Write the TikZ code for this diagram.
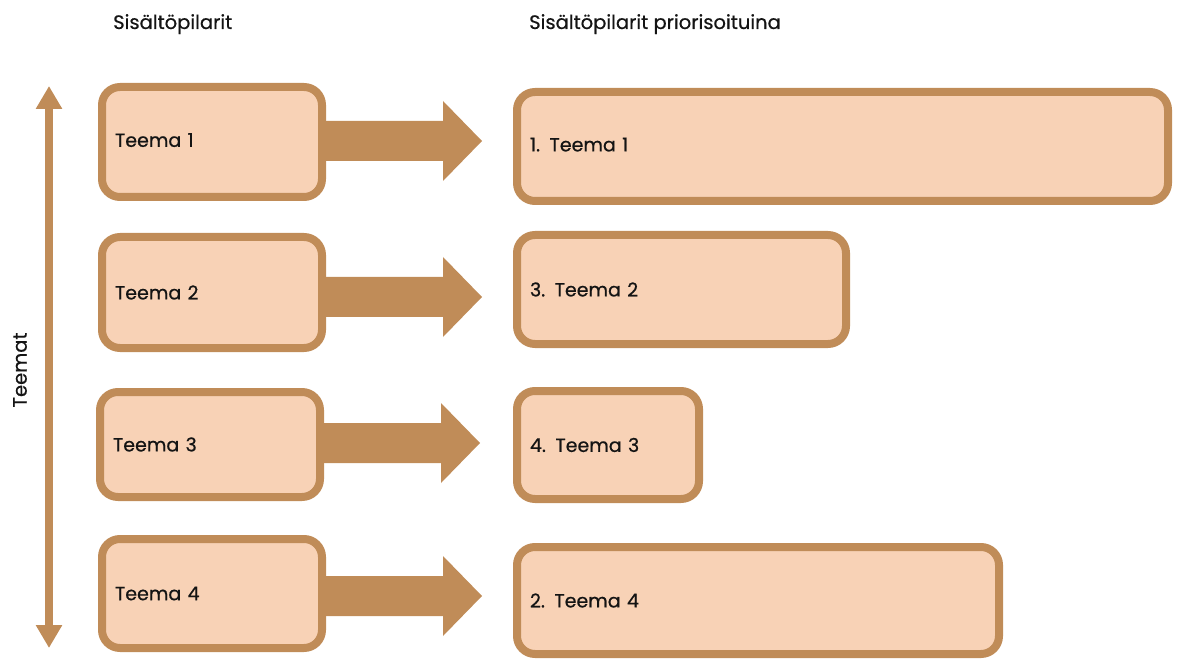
\documentclass[tikz,border=0pt]{standalone}
\usepackage{fontspec}
\setmainfont{Poppins}[FakeBold=0.6]
\usetikzlibrary{arrows.meta,calc}
\definecolor{boxfill}{RGB}{248,210,182}
\definecolor{boxline}{RGB}{192,140,88}
\definecolor{txt}{RGB}{20,20,20}
\tikzset{
  pillar/.style={draw=boxline, fill=boxfill, line width=8pt, rounded corners=18pt,
    minimum width=220pt, inner xsep=13pt, text width=#1, align=left,
    font=\fontsize{19}{22}\selectfont, text=txt},
  pillar/.default=194pt,
  bigarrow/.style={fill=boxline},
  heading/.style={font=\fontsize{19.5}{22}\selectfont, text=txt, inner sep=0pt},
}
\begin{document}
\begin{tikzpicture}[x=1pt,y=-1pt]
\useasboundingbox (0,0) rectangle (1178,660);
% headings
\node[heading, anchor=base west] (h1) at (113,29) {Sisältöpilarit};
\node[heading, anchor=base west] (h2) at (529,29) {Sisältöpilarit priorisoituina};
\node[heading, rotate=90] (hv) at (20,370) {Teemat};
% vertical double arrow
\coordinate (vtop) at (49,86);
\coordinate (vbot) at (49,648);
\draw[boxline, line width=8pt, {Triangle[width=25pt,length=23pt]}-{Triangle[width=25pt,length=23pt]}] (vtop) -- (vbot);
% left boxes
\node[pillar, minimum height=110pt] (l1) at (212,142) {\raisebox{4pt}{Teema 1}};
\node[pillar, minimum height=111pt] (l2) at (212,292.5) {Teema 2};
\node[pillar, minimum height=105pt] (l3) at (210,444.5) {Teema 3};
\node[pillar, minimum height=109pt] (l4) at (212,593.5) {Teema 4};
% right boxes
\node[pillar=625pt, minimum width=651pt, minimum height=109pt] (r1) at (842.5,146.5) {\raisebox{4pt}{1. Teema 1}};
\node[pillar=303pt, minimum width=329pt, minimum height=109pt] (r2) at (681.5,289.5) {3. Teema 2};
\node[pillar=156pt, minimum width=182pt, minimum height=108pt] (r3) at (608,445) {4. Teema 3};
\node[pillar=456pt, minimum width=482pt, minimum height=107pt] (r4) at (758,600.5) {2. Teema 4};
% arrow tips
\coordinate (t1) at (482,141);
\coordinate (t2) at (482,297);
\coordinate (t3) at (480,443);
\coordinate (t4) at (482,596);
% block arrows
\foreach \i in {1,2,3,4}{
  \fill[bigarrow] (l\i.east |- t\i) ++(-4,-20) -| ($(t\i)+(-39,-40)$) -- (t\i) -- ($(t\i)+(-39,40)$) |- ($(l\i.east |- t\i)+(-4,20)$) -- cycle;
}
\end{tikzpicture}
\end{document}
